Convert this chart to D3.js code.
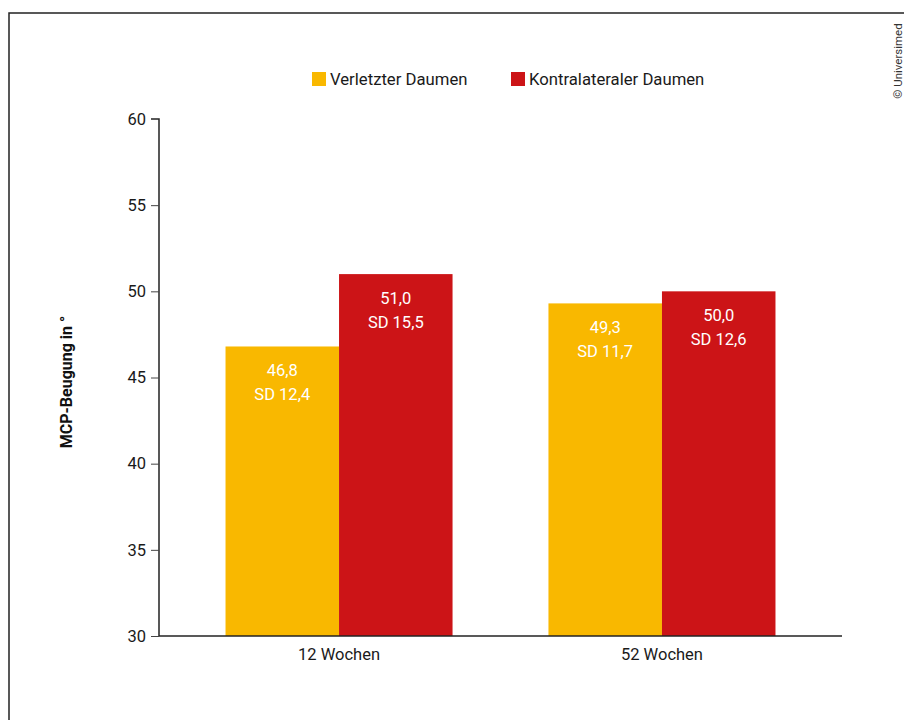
<!DOCTYPE html>
<html><head><meta charset="utf-8">
<script src="https://cdn.jsdelivr.net/npm/d3@7"></script>
<style>body{margin:0;background:#fff}svg{display:block}text{font-family:Roboto,"Liberation Sans",sans-serif}</style>
</head><body><svg id="c" width="904" height="720"></svg>
<script>
const categories = ["12 Wochen", "52 Wochen"];
const seriesNames = ["Verletzter Daumen", "Kontralateraler Daumen"];
const verletzt = [46.8, 49.3];
const verletztSD = [12.4, 11.7];
const kontra = [51.0, 50.0];
const kontraSD = [15.5, 12.6];
const yTicks = [30, 35, 40, 45, 50, 55, 60];
const colors = ["#F9B800", "#CC1417"];

const svg = d3.select("#c");
const fmt = v => d3.format(".1f")(v).replace(".", ",");

// frame
svg.append("path").attr("d", "M9,720V13H904").attr("fill", "none").attr("stroke", "#222").attr("stroke-width", 1.5);
svg.append("text").attr("transform", "translate(902,61) rotate(-90)").attr("text-anchor", "middle")
  .attr("font-size", 11.5).attr("fill", "#333").text("© Universimed");

const x0 = d3.scaleBand().domain(categories).range([159, 842]).paddingInner(0.297).paddingOuter(0.206);
const x1 = d3.scaleBand().domain(seriesNames).range([0, x0.bandwidth()]);
const y = d3.scaleLinear().domain([30, 60]).range([636, 119]);

const data = categories.map((c, i) => ({
  cat: c,
  vals: [
    {s: seriesNames[0], v: verletzt[i], sd: verletztSD[i], col: colors[0]},
    {s: seriesNames[1], v: kontra[i], sd: kontraSD[i], col: colors[1]}
  ]
}));

const g = svg.append("g").selectAll("g").data(data).join("g")
  .attr("transform", d => `translate(${x0(d.cat)},0)`);
g.selectAll("rect").data(d => d.vals).join("rect")
  .attr("x", d => x1(d.s)).attr("width", x1.bandwidth())
  .attr("y", d => y(d.v)).attr("height", d => y(30) - y(d.v)).attr("fill", d => d.col);
g.selectAll("text.v").data(d => d.vals).join("text").attr("class", "v")
  .attr("x", d => x1(d.s) + x1.bandwidth() / 2).attr("y", d => y(d.v) + 30)
  .attr("text-anchor", "middle").attr("font-size", 16.5).attr("fill", "#fff").text(d => fmt(d.v));
g.selectAll("text.sd").data(d => d.vals).join("text").attr("class", "sd")
  .attr("x", d => x1(d.s) + x1.bandwidth() / 2).attr("y", d => y(d.v) + 54)
  .attr("text-anchor", "middle").attr("font-size", 16.5).attr("fill", "#fff").text(d => "SD " + fmt(d.sd));

// y axis
const ya = svg.append("g").attr("transform", "translate(159,0)")
  .call(d3.axisLeft(y).tickValues(yTicks).tickSize(8).tickPadding(5));
ya.select(".domain").attr("d", "M-8,119H0V636").attr("stroke", "#222").attr("stroke-width", 1.5);
ya.selectAll(".tick line").attr("stroke", "#444");
ya.selectAll(".tick text").attr("font-size", 16.5).attr("fill", "#1a1a1a").attr("font-family", "Roboto,sans-serif");
ya.selectAll(".tick").filter(d => d === 60).select("line").remove();

// x axis
const xa = svg.append("g").attr("transform", "translate(0,636)")
  .call(d3.axisBottom(x0).tickSize(0).tickPadding(12));
xa.select(".domain").attr("d", "M159,0H842").attr("stroke", "#222").attr("stroke-width", 1.5);
xa.selectAll(".tick text").attr("font-size", 16.5).attr("fill", "#1a1a1a").attr("font-family", "Roboto,sans-serif");

// y title
svg.append("text").attr("transform", "translate(72,382) rotate(-90)").attr("text-anchor", "middle")
  .attr("font-size", 16).attr("font-weight", "bold").attr("fill", "#111").text("MCP-Beugung in °");

// legend
const legX = [312, 511];
const lg = svg.append("g").selectAll("g").data(seriesNames).join("g")
  .attr("transform", (d, i) => `translate(${legX[i]},72)`);
lg.append("rect").attr("width", 14).attr("height", 14).attr("fill", (d, i) => colors[i]);
lg.append("text").attr("x", 18).attr("y", 13).attr("font-size", 16.7).attr("fill", "#1a1a1a").text(d => d);
</script></body></html>
